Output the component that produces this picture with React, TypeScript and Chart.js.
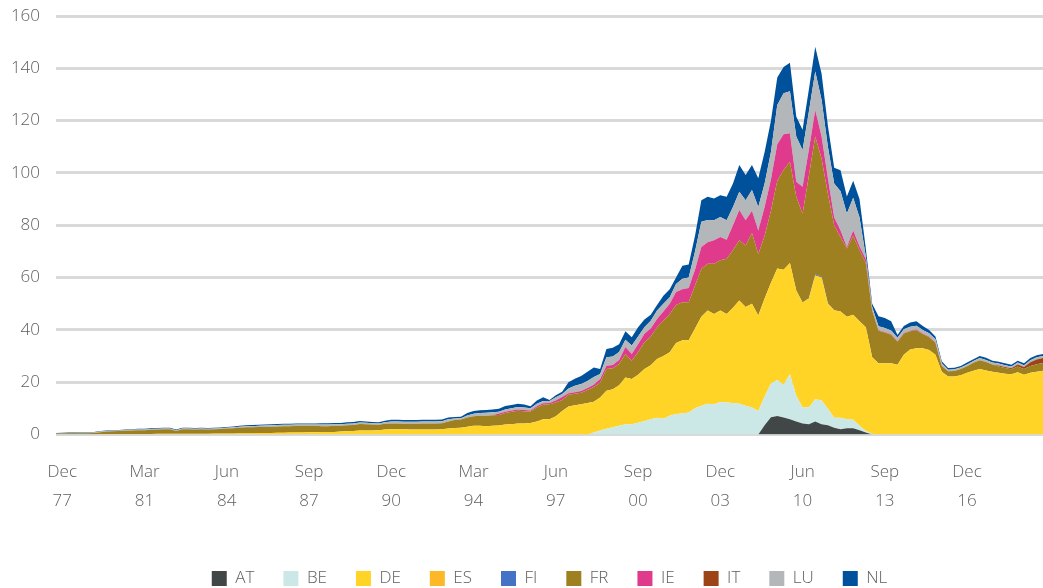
import React, { useEffect, useRef } from "react";
import { Chart, registerables } from "chart.js";

Chart.register(...registerables);

// ---- Categories (one per observation) ----
const MONTHS = ["Mar", "Jun", "Sep", "Dec"];
const categories: string[] = [];
for (let i = 0; i < 157; i++) {
  const q = 2 + i;
  const year = 1977 + Math.floor(q / 4);
  categories.push(`${MONTHS[q % 4]} ${String(year % 100).padStart(2, "0")}`);
}

// Tick labels shown on the axis (every 13th observation, starting at index 1)
const tickLabels = [
  "Dec 77", "Mar 81", "Jun 84", "Sep 87", "Dec 90", "Mar 94",
  "Jun 97", "Sep 00", "Dec 03", "Jun 10", "Sep 13", "Dec 16",
];

// ---- Series values ----
const AT = [
  0,0,0,0,0,0,0,0,0,0,
  0,0,0,0,0,0,0,0,0,0,
  0,0,0,0,0,0,0,0,0,0,
  0,0,0,0,0,0,0,0,0,0,
  0,0,0,0,0,0,0,0,0,0,
  0,0,0,0,0,0,0,0,0,0,
  0,0,0,0,0,0,0,0,0,0,
  0,0,0,0,0,0,0,0,0,0,
  0,0,0,0,0,0,0,0,0,0,
  0,0,0,0,0,0,0,0,0,0,
  0,0,0,0,0,0,0,0,0,0,
  0,0,3.5,6.6,7.1,6.5,5.8,5.0,4.2,3.9,
  5.0,3.9,3.5,2.6,2.0,2.4,2.4,1.6,0.8,0,
  0,0,0,0,0,0,0,0,0,0,
  0,0,0,0,0,0,0,0,0,0,
  0,0,0,0,0,0,0,
];

const BE = [
  0,0,0,0,0,0,0,0,0,0,
  0,0,0,0,0,0,0,0,0,0,
  0,0,0,0,0,0,0,0,0,0,
  0,0,0,0,0,0,0,0,0,0,
  0,0,0,0,0,0,0,0,0,0,
  0,0,0,0,0,0,0,0,0,0,
  0,0,0,0,0,0,0,0,0,0,
  0,0,0,0,0,0,0,0,0,0,
  0,0,0,0,0,0.8,1.5,2.2,2.8,3.3,
  3.9,3.9,4.5,5.2,5.8,6.4,6.0,7.2,7.8,8.0,
  8.4,10.0,11.0,11.8,11.6,12.4,12.2,12.0,11.8,11.0,
  10.3,9.0,11.0,12.9,13.7,12.5,17.2,9.8,6.1,6.4,
  8.5,9.1,6.3,3.8,4.4,3.4,3.2,1.7,0.5,0.3,
  0,0,0,0,0,0,0,0,0,0,
  0,0,0,0,0,0,0,0,0,0,
  0,0,0,0,0,0,0,
];

const DE = [
  0.1,0.1,0.1,0.1,0.1,0.1,0.1,0.2,0.2,0.2,
  0.2,0.2,0.2,0.2,0.2,0.2,0.3,0.3,0.3,0.3,
  0.3,0.3,0.3,0.3,0.3,0.4,0.4,0.4,0.4,0.5,
  0.5,0.5,0.6,0.6,0.6,0.7,0.7,0.8,0.8,0.8,
  0.9,0.9,1.0,1.0,1.0,1.1,1.2,1.3,1.5,1.5,
  1.5,1.6,1.9,2.0,2.0,2.0,1.9,1.9,1.9,1.9,
  1.9,2.0,2.3,2.5,2.6,3.0,3.3,3.3,3.2,3.3,
  3.4,3.8,3.9,4.2,4.2,4.4,5.0,5.8,5.8,7.0,
  9.0,10.7,11.2,11.6,12.0,11.7,12.6,14.5,14.5,15.5,
  17.9,17.3,18.3,19.8,20.7,22.5,24.0,24.2,27.2,28.0,
  27.6,30.5,34.0,35.6,34.5,35.0,33.9,36.5,39.4,37.7,
  39.7,36.5,37.5,38.5,42.7,44.0,42.6,40.3,40.2,41.7,
  47.3,47.0,40.2,41.1,40.6,39.2,40.2,40.0,39.7,29.2,
  27.2,27.2,27.2,26.7,30.5,32.5,33.0,33.0,32.3,30.5,
  24.0,22.2,22.2,22.7,23.6,24.4,25.0,24.5,24.0,23.6,
  23.2,23.0,23.8,22.8,23.6,24.0,24.4,
];

const ES = [
  0,0,0,0,0,0,0,0,0,0,
  0,0,0,0,0,0,0,0,0,0,
  0,0,0,0,0,0,0,0,0,0,
  0,0,0,0,0,0,0,0,0,0,
  0,0,0,0,0,0,0,0,0,0,
  0,0,0,0,0,0,0,0,0,0,
  0,0,0,0,0,0,0,0,0,0,
  0,0,0,0,0,0,0,0,0,0,
  0,0,0,0,0,0,0,0,0,0,
  0,0,0,0,0,0,0,0,0,0,
  0,0,0,0,0,0,0,0,0,0,
  0,0,0,0,0,0,0,0,0,0,
  0,0,0,0,0,0,0,0,0,0,
  0,0,0,0,0,0,0,0,0,0,
  0,0,0,0,0,0,0,0,0,0,
  0,0,0,0,0,0,0,
];

const FI = [
  0,0,0,0,0,0,0,0,0,0,
  0,0,0,0,0,0,0,0,0,0,
  0,0,0,0,0,0,0,0,0,0,
  0,0,0,0,0,0,0,0,0,0,
  0,0,0,0,0,0,0,0,0,0,
  0,0,0,0,0,0,0,0,0,0,
  0,0,0,0,0,0,0,0,0,0,
  0,0,0,0,0,0,0,0,0,0,
  0,0,0,0,0,0,0,0,0,0,
  0,0,0,0,0,0,0,0,0,0,
  0,0,0,0,0,0,0,0,0,0,
  0,0,0,0,0,0,0,0,0,0.2,
  0.4,0.4,0.2,0,0,0,0,0,0,0,
  0,0,0,0,0,0,0,0,0,0,
  0,0,0,0,0,0,0,0,0,0,
  0,0,0,0,0,0,0,
];

const FR = [
  0.2,0.3,0.4,0.4,0.4,0.4,0.5,0.7,0.9,1.0,
  1.1,1.2,1.3,1.4,1.4,1.6,1.6,1.7,1.7,1.0,
  1.7,1.7,1.6,1.7,1.6,1.6,1.7,1.9,2.0,2.1,
  2.3,2.3,2.3,2.3,2.4,2.4,2.5,2.4,2.5,2.5,
  2.4,2.4,2.2,2.2,2.3,2.2,2.3,2.3,2.5,2.4,
  2.3,2.1,2.2,2.2,2.2,2.1,2.2,2.2,2.3,2.3,
  2.3,2.3,2.7,3.0,3.1,3.5,3.7,3.9,4.0,4.1,
  4.1,4.4,4.8,4.9,4.7,4.4,5.3,5.6,5.8,5.2,
  4.2,4.5,4.4,4.4,5.0,5.7,5.8,8.3,8.0,8.2,
  9.0,7.0,8.7,10.3,11.0,12.1,13.5,14.7,14.5,14.6,
  14.6,16.5,18.4,17.9,19.2,19.2,21.1,22.0,23.1,23.6,
  27.0,23.5,24.0,27.5,33.5,38.1,38.7,35.8,34.0,46.8,
  52.7,45.1,41.8,32.5,28.5,26.1,30.2,27.2,24.5,17.9,
  12.5,11.8,10.9,8.8,8.1,7.0,6.9,5.4,5.0,4.6,
  2.2,2.0,2.1,2.3,2.5,3.0,3.4,3.2,2.8,2.4,
  2.2,1.9,2.2,2.2,2.6,2.9,2.9,
];

const IE = [
  0,0,0,0,0,0,0,0,0,0,
  0,0,0,0,0,0,0,0,0,0,
  0,0,0,0,0,0,0,0,0,0,
  0,0,0,0,0,0,0,0,0,0,
  0,0,0,0,0,0,0,0,0,0,
  0,0,0,0,0,0,0,0,0,0,
  0,0,0,0,0,0,0,0,0,0,
  0.5,0.5,0.5,0.5,0.5,0.4,0.5,0.5,0.4,0.8,
  1.1,0.6,0.6,0.6,0.8,0.8,1.3,1.3,1.3,1.5,
  2.7,2.6,3.0,3.2,3.0,3.2,3.5,3.9,5.0,4.9,
  5.4,6.0,8.3,8.2,9.0,8.9,7.3,9.5,11.5,9.6,
  8.5,9.0,11.0,12.0,14.0,13.7,10.9,5.7,10.2,10.0,
  10.2,8.5,6.0,3.0,2.5,0.6,2.0,1.5,1.5,0.2,
  0.2,0.2,0.2,0.2,0.2,0.2,0.2,0.2,0.2,0.2,
  0.1,0,0,0,0,0,0,0,0,0,
  0,0,0,0,0,0,0,
];

const IT = [
  0,0,0,0,0,0,0,0,0,0,
  0,0,0,0,0,0,0,0,0,0,
  0,0,0,0,0,0,0,0,0,0,
  0,0,0,0,0,0,0,0,0,0,
  0,0,0,0,0,0,0,0,0,0,
  0,0,0,0,0,0,0,0,0,0,
  0,0,0,0,0,0,0,0,0,0,
  0,0,0,0,0,0,0,0,0,0,
  0,0,0,0,0,0,0,0,0,0,
  0,0,0,0,0,0,0,0,0,0,
  0,0,0,0,0,0,0,0,0,0,
  0,0,0,0,0,0,0,0,0,0,
  0,0,0,0,0,0,0,0,0,0,
  0,0,0,0,0,0,0,0,0,0,
  0,0,0,0,0,0,0,0,0,0.4,
  0.4,0.4,0.8,0.8,1.4,1.8,1.9,
];

const LU = [
  0.1,0.1,0.1,0.1,0.2,0.2,0.2,0.2,0.2,0.2,
  0.2,0.3,0.3,0.3,0.3,0.3,0.3,0.3,0.3,0.3,
  0.3,0.3,0.3,0.3,0.3,0.3,0.3,0.3,0.4,0.4,
  0.4,0.4,0.4,0.5,0.5,0.5,0.5,0.5,0.5,0.5,
  0.5,0.5,0.6,0.6,0.6,0.6,0.6,0.6,0.6,0.6,
  0.5,0.5,0.6,0.8,0.8,0.8,0.8,0.8,0.8,0.8,
  0.8,0.8,0.8,0.6,0.5,0.8,0.9,1.0,1.1,1.1,
  0.7,0.9,0.8,0.9,0.9,0.8,1.0,0.9,0.8,1.2,
  1.2,1.8,2.4,2.7,2.7,3.0,1.9,3.2,3.2,3.0,
  2.7,3.2,3.0,2.5,3.0,3.2,3.0,2.5,3.0,4.0,
  4.0,7.0,9.6,8.5,7.6,7.7,7.4,7.0,7.0,7.7,
  8.0,9.0,9.0,10.5,15.0,15.7,16.0,17.3,14.1,14.5,
  14.7,14.0,12.0,13.0,15.0,12.8,12.5,11.0,1.0,1.1,
  1.5,1.5,1.5,1.3,1.4,1.5,1.5,1.4,1.2,1.1,
  0.9,0.6,0.6,0.6,0.7,0.7,0.8,0.8,0.7,0.7,
  0.7,0.7,0.7,0.7,0.8,0.8,0.8,
];

const NL = [
  0.2,0.2,0.2,0.2,0.2,0.2,0.2,0.2,0.2,0.2,
  0.2,0.2,0.2,0.3,0.3,0.3,0.3,0.3,0.3,0.3,
  0.3,0.3,0.3,0.3,0.3,0.3,0.3,0.3,0.3,0.3,
  0.3,0.4,0.4,0.4,0.4,0.4,0.4,0.4,0.4,0.4,
  0.4,0.4,0.5,0.5,0.5,0.5,0.6,0.6,0.6,0.5,
  0.5,0.5,0.6,0.6,0.6,0.6,0.6,0.6,0.6,0.6,
  0.6,0.6,0.7,0.6,0.6,0.9,1.1,1.1,1.1,1.1,
  1.1,1.3,1.3,1.3,1.2,0.8,1.2,1.4,0.4,0.8,
  0.8,2.4,2.7,3.1,3.5,3.6,1.9,3.2,3.4,3.0,
  3.3,3.2,3.5,3.0,2.3,2.1,3.0,3.0,2.5,5.0,
  5.0,6.0,8.3,8.9,8.3,8.3,9.0,9.0,10.2,9.6,
  9.5,11.0,12.0,12.0,10.5,10.0,10.9,7.7,7.7,8.5,
  9.4,10.0,8.0,6.0,8.0,6.5,6.5,7.0,3.0,1.3,
  3.8,3.8,3.5,1.0,1.3,1.6,1.7,1.5,1.3,1.1,
  0.8,0.6,0.6,0.6,0.7,0.7,0.8,0.8,0.7,0.7,
  0.7,0.7,0.7,0.7,0.8,0.8,0.8,
];

const seriesNames = ["AT", "BE", "DE", "ES", "FI", "FR", "IE", "IT", "LU", "NL"];
const seriesValues = [AT, BE, DE, ES, FI, FR, IE, IT, LU, NL];
const seriesColors = [
  "#414747", "#CBE8E7", "#FFD427", "#FDB827", "#4472C4",
  "#9E8020", "#E03A8C", "#9C4416", "#B3B7BA", "#00519B",
];

const FONT = { family: "'Open Sans', 'Liberation Sans', sans-serif", size: 17, weight: 300 as any };
const TEXT = "#5E5E5E";

export default function App() {
  const ref = useRef<HTMLCanvasElement | null>(null);

  useEffect(() => {
    document.body.style.margin = "0";
    document.body.style.overflow = "hidden";
    if (!ref.current) return;
    const chart = new Chart(ref.current, {
      type: "line",
      data: {
        labels: categories,
        datasets: seriesNames.map((name, i) => ({
          label: name,
          data: seriesValues[i],
          backgroundColor: seriesColors[i],
          borderColor: "transparent",
          borderWidth: 0,
          pointRadius: 0,
          pointHoverRadius: 0,
          tension: 0,
          fill: i === 0 ? "origin" : "-1",
        })),
      },
      options: {
        responsive: false,
        animation: false,
        layout: { padding: { top: 16, left: 0, right: 0, bottom: 0 } },
        plugins: {
          tooltip: { enabled: false },
          legend: {
            position: "bottom",
            fullSize: false,
            labels: {
              boxWidth: 15,
              boxHeight: 15,
              padding: 29,
              color: TEXT,
              font: FONT,
            },
          },
        },
        scales: {
          x: {
            type: "category",
            grid: { display: false, drawTicks: false },
            border: { display: false },
            ticks: {
              autoSkip: false,
              maxRotation: 0,
              minRotation: 0,
              padding: 23,
              color: TEXT,
              font: { ...FONT, lineHeight: 1.7 },
              callback: (_v: any, index: number) => {
                const k = index - 1;
                if (k >= 0 && k % 13 === 0) {
                  const lbl = tickLabels[k / 13];
                  if (lbl) return lbl.split(" ");
                }
                return "";
              },
            },
            afterFit: (scale: any) => {
              scale.height = 106.5;
              scale.paddingLeft = 0;
              scale.paddingRight = 0;
            },
          },
          y: {
            stacked: true,
            min: 0,
            max: 160,
            ticks: { stepSize: 20, padding: 16, color: TEXT, font: FONT },
            grid: { color: "#D9D9D9", lineWidth: 3, drawTicks: false },
            border: { display: false },
            afterFit: (scale: any) => {
              scale.width = 56;
              scale.paddingTop = 0;
              scale.paddingBottom = 0;
            },
          },
        },
      },
    });
    return () => chart.destroy();
  }, []);

  return (
    <div style={{ width: 1043, height: 588, overflow: "hidden", position: "relative" }}>
      <canvas ref={ref} width={1043} height={597} style={{ display: "block" }} />
    </div>
  );
}
